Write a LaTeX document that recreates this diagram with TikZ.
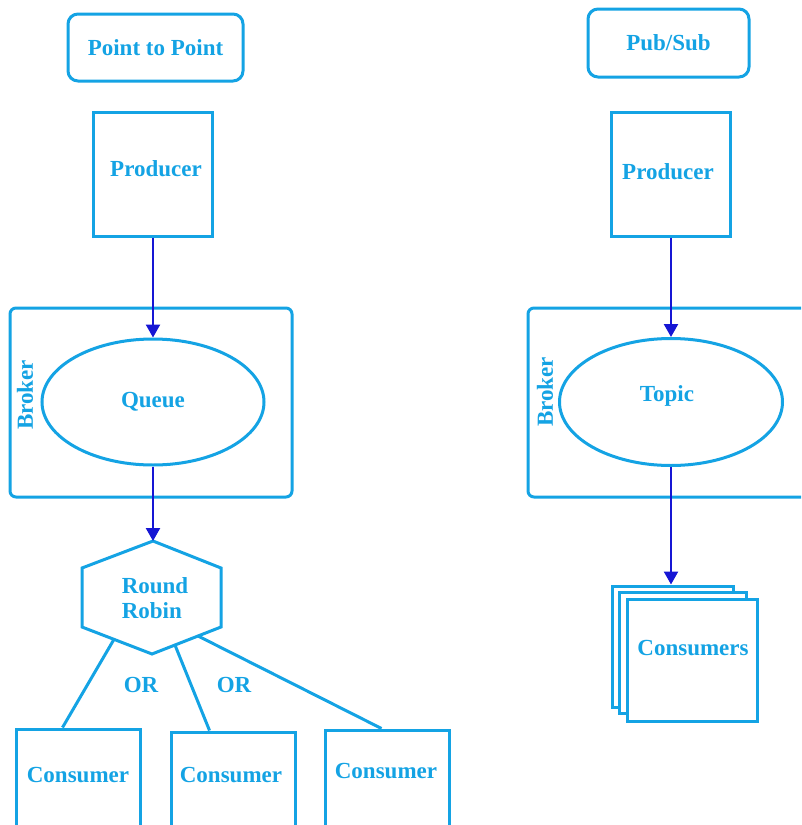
\documentclass[tikz,border=0pt]{standalone}
\usepackage{fontspec}
\setmainfont{Liberation Serif}
\usetikzlibrary{arrows.meta, shapes.geometric, calc}
\definecolor{mqblue}{RGB}{20,163,228}
\definecolor{mqarrow}{RGB}{22,22,212}
\tikzset{
  box/.style={draw=mqblue, line width=3pt, fill=white, inner sep=0pt},
  lbl/.style={text=mqblue, font=\fontsize{23}{27}\selectfont\bfseries},
  flow/.style={draw=mqarrow, line width=2.4pt, -{Triangle[length=13pt,width=14pt]}},
  link/.style={draw=mqblue, line width=3pt},
}
\begin{document}
\begin{tikzpicture}[x=1pt, y=-1pt]
\useasboundingbox (0,0) rectangle (801,825);
\clip (0,0) rectangle (801,825);
% Titles
\node[box, lbl, rounded corners=10pt, minimum width=175pt, minimum height=67pt] (ptp) at (155.5,47.5) {Point to Point};
\node[box, lbl, rounded corners=10pt, minimum width=161pt, minimum height=68pt] (pubsub) at (668.5,43) {Pub/Sub};
% Producers
\node[box, minimum width=119pt, minimum height=124pt] (prodL) at (153,174) {};
\node[box, minimum width=119pt, minimum height=124pt] (prodR) at (671,174) {};
\node[lbl] (prodLtxt) at (156,169) {Producer};
\node[lbl] (prodRtxt) at (668,172) {Producer};
% Brokers
\node[box, rounded corners=6pt, minimum width=282pt, minimum height=189pt] (brokerL) at (151,402.5) {};
\node[box, rounded corners=6pt, minimum width=292pt, minimum height=189pt] (brokerR) at (674,402.5) {};
\node[lbl, rotate=90] (brkLtxt) at (25,395) {Broker};
\node[lbl, rotate=90] (brkRtxt) at (545,392) {Broker};
\node[box, lbl, ellipse, minimum width=222pt, minimum height=126pt] (queue) at (153,402) {Queue};
\node[box, ellipse, minimum width=223pt, minimum height=127pt] (topic) at (671,402) {};
\node[lbl] (topictxt) at (667,396) {Topic};
% Round robin
\coordinate (rrN) at (153,541);
\coordinate (rrNW) at (82,568);
\coordinate (rrSW) at (82,627);
\coordinate (rrS) at (152,654);
\coordinate (rrSE) at (221,627);
\coordinate (rrNE) at (221,568);
\draw[link, fill=white] (rrN) -- (rrNW) -- (rrSW) -- (rrS) -- (rrSE) -- (rrNE) -- cycle;
\node[lbl, align=left] (rr) at (155,598) {Round\\[-2pt]Robin};
% Consumers
\node[box, minimum width=124pt, minimum height=131pt] (c1) at (78,794.5) {};
\node[box, minimum width=124pt, minimum height=128pt] (c2) at (233,796) {};
\node[box, minimum width=124pt, minimum height=130pt] (c3) at (387,795) {};
\node[lbl] (c1txt) at (78,775) {Consumer};
\node[lbl] (c2txt) at (231,775) {Consumer};
\node[lbl] (c3txt) at (386,771) {Consumer};
\draw[link] ($(rrSW)!0.457!(rrS)$) -- ([xshift=48pt]c1.north west);
\draw[link] ($(rrS)!0.333!(rrSE)$) -- ([xshift=40pt]c2.north west);
\draw[link] ($(rrS)!0.667!(rrSE)$) -- ([xshift=58pt]c3.north west);
\node[lbl] (or1) at (141,685) {OR};
\node[lbl] (or2) at (234,685) {OR};
% Consumers stack
\node[box, minimum width=121pt, minimum height=121pt] (cs1) at (672.5,646.5) {};
\node[box, minimum width=127pt, minimum height=121pt] (cs2) at (682.5,652.5) {};
\node[box, minimum width=130pt, minimum height=122pt] (cs3) at (692,660) {};
\node[lbl] (cstxt) at (693,648) {Consumers};
% Arrows
\draw[flow] (prodL.south) -- (prodL.south |- queue.north);
\draw[flow] (queue.south) -- (rrN);
\draw[flow] (prodR.south) -- (prodR.south |- topic.north);
\draw[flow] (topic.south) -- (topic.south |- cs1.north);
\end{tikzpicture}
\end{document}
